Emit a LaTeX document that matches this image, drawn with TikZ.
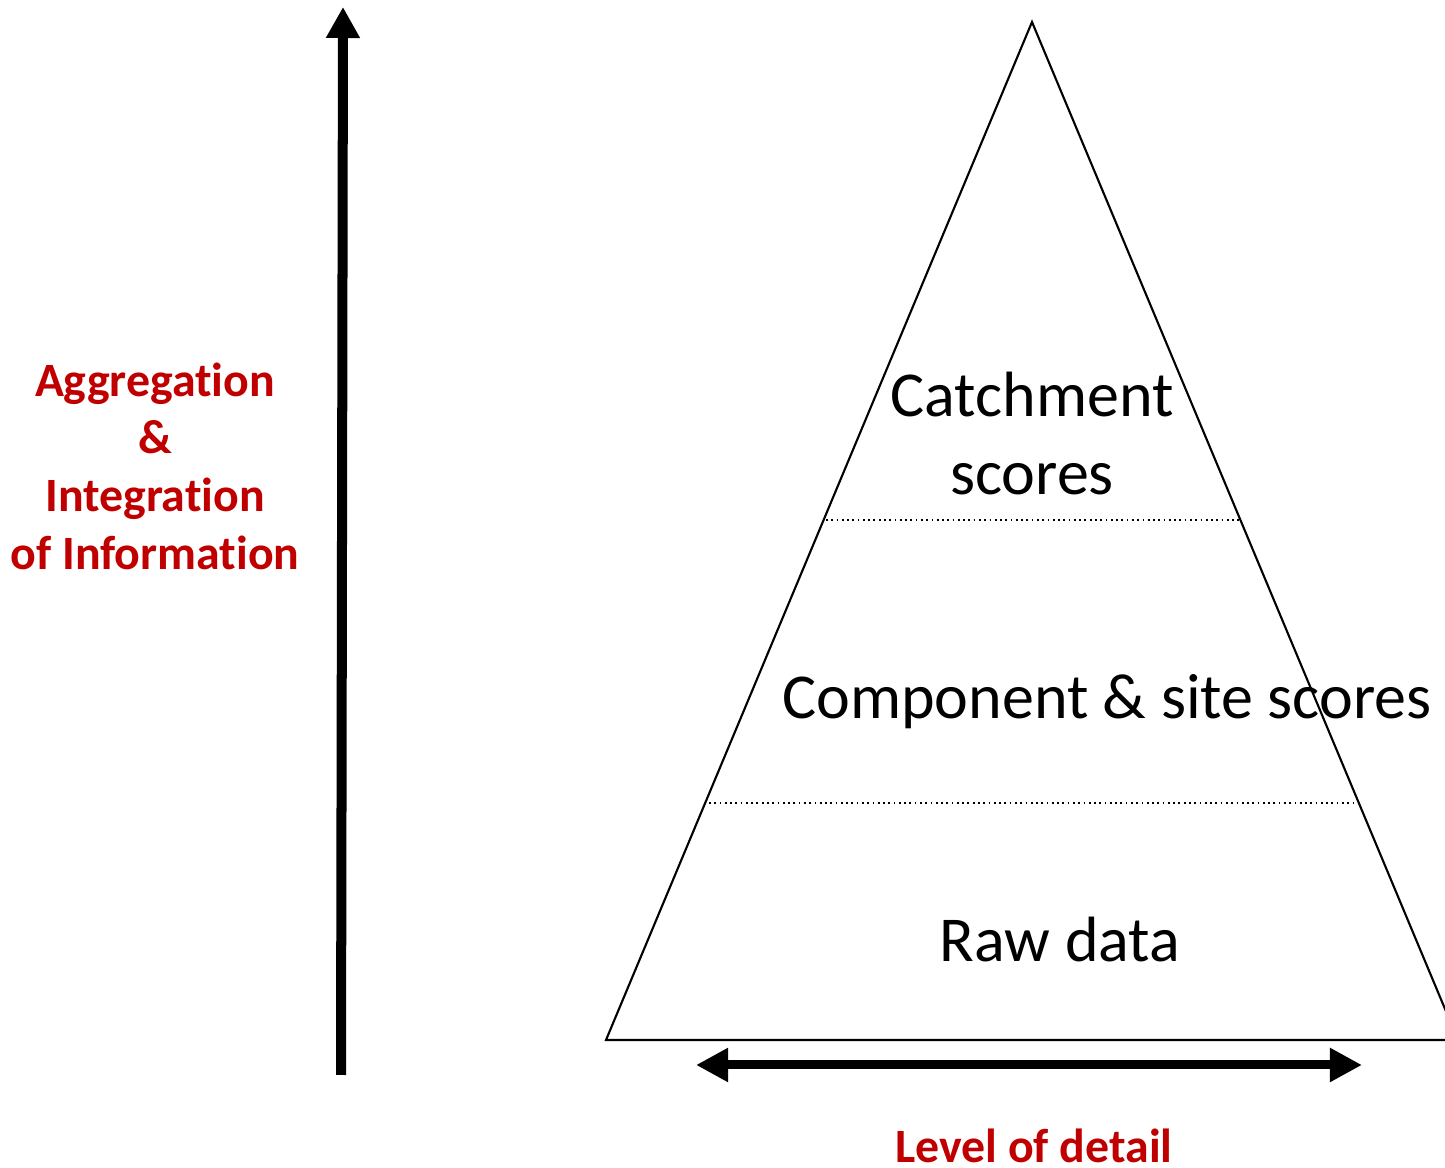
\documentclass[tikz,border=0pt]{standalone}
\usepackage{fontspec}
\setmainfont[Ligatures=NoCommon]{Carlito}
\usetikzlibrary{arrows.meta}
\definecolor{darkred}{HTML}{C00000}
\begin{document}
\begin{tikzpicture}[x=0.01cm, y=-0.01cm]
	\useasboundingbox (0, 0) rectangle (1445, 1168);
	\coordinate (0) at (1032, 22);
	\coordinate (1) at (606, 1040);
	\coordinate (2) at (1458, 1040);
	\coordinate (3) at (826, 520);
	\coordinate (4) at (1241, 520);
	\coordinate (5) at (709, 803);
	\coordinate (6) at (1357, 803);
	\node[anchor=base, inner sep=0pt, font=\fontsize{18.2}{22}\selectfont] (7) at (1032, 417) {Catchment};
	\node[anchor=base, inner sep=0pt, font=\fontsize{18.2}{22}\selectfont] (8) at (1032, 495) {scores};
	\node[anchor=base, inner sep=0pt, font=\fontsize{18.2}{22}\selectfont] (9) at (1107, 719) {Component \& site scores};
	\node[anchor=base, inner sep=0pt, font=\fontsize{18.2}{22}\selectfont] (10) at (1060, 962) {Raw data};
	\node[anchor=base, inner sep=0pt, text=darkred, font=\fontsize{13.6}{16}\selectfont\bfseries] (11) at (155, 397) {Aggregation};
	\node[anchor=base, inner sep=0pt, text=darkred, font=\fontsize{13.6}{16}\selectfont\bfseries] (12) at (155, 454) {\&};
	\node[anchor=base, inner sep=0pt, text=darkred, font=\fontsize{13.6}{16}\selectfont\bfseries] (13) at (155, 512) {Integration};
	\node[anchor=base, inner sep=0pt, text=darkred, font=\fontsize{13.6}{16}\selectfont\bfseries] (14) at (155, 570) {of Information};
	\node[anchor=base, inner sep=0pt, text=darkred, font=\fontsize{13.6}{16}\selectfont\bfseries] (15) at (1034, 1163) {Level of detail};
	\coordinate (16) at (341, 1075);
	\coordinate (17) at (343, 7);
	\coordinate (18) at (696, 1065);
	\coordinate (19) at (1362, 1065);
	\draw[line width=0.6pt] (0) -- (1) -- (2) -- cycle;
	\draw[line width=0.5pt, densely dotted] (3) to (4);
	\draw[line width=0.5pt, densely dotted] (5) to (6);
	\draw[line width=0.1cm, -{Triangle[length=0.31cm, width=0.32cm]}] (16) to (17);
	\draw[line width=0.09cm, {Triangle[length=0.32cm, width=0.32cm]}-{Triangle[length=0.32cm, width=0.32cm]}] (18) to (19);
\end{tikzpicture}
\end{document}
